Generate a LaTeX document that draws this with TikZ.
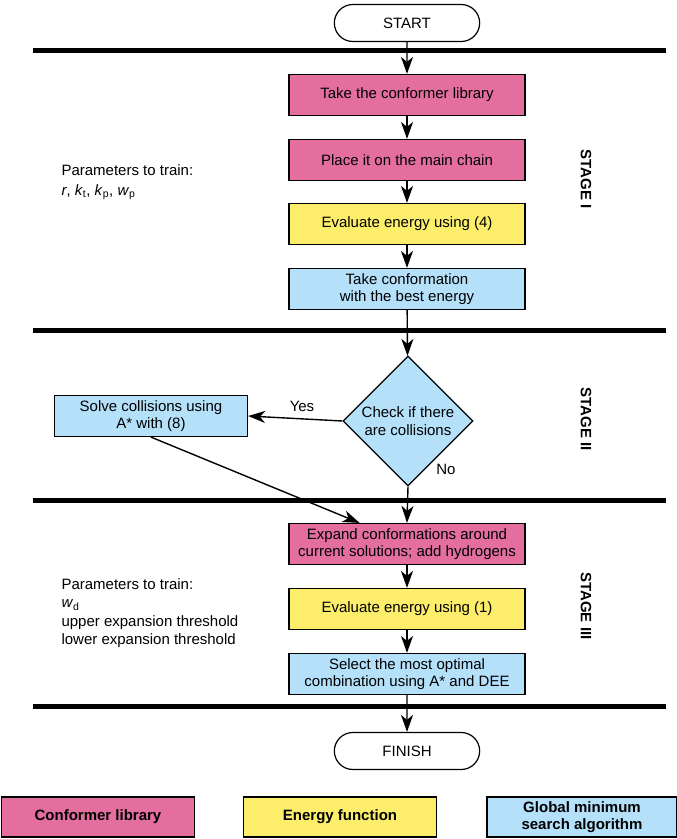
\documentclass[tikz,border=0pt]{standalone}
\usepackage{fontspec}
\setmainfont{Liberation Sans}
\usetikzlibrary{shapes,arrows.meta,positioning,calc}
\definecolor{libpink}{RGB}{228,110,158}
\definecolor{enyellow}{RGB}{252,238,106}
\definecolor{searchblue}{RGB}{180,224,250}

\begin{document}
\begin{tikzpicture}[x=1pt, y=-1pt, font=\fontsize{15}{17.5}\selectfont,
        box/.style={draw, line width=1.2pt, minimum width=236pt, minimum height=41pt, align=center, inner sep=2pt},
        term/.style={draw, line width=1.2pt, rounded rectangle, minimum width=152pt, minimum height=37pt},
        legend/.style={draw, line width=1.2pt, minimum width=193pt, minimum height=40pt, align=center, font=\fontsize{15}{17.5}\selectfont\bfseries},
        stage/.style={font=\fontsize{15}{17.5}\selectfont\bfseries, rotate=-90},
        sep/.style={line width=5pt},
        flow/.style={-{Stealth[length=17pt,width=12pt,inset=5pt]}, line width=1.4pt}]
        \useasboundingbox (0,0) rectangle (677,839);

        \node[term] (start) at (407,23) {START};
        \draw[sep] (33,50) -- (666,50);

        \node[box, fill=libpink] (lib) at (407,95) {Take the conformer library};
        \node[box, fill=libpink] (place) at (407,160) {Place it on the main chain};
        \node[box, fill=enyellow] (evalA) at (407,224) {Evaluate energy using (4)};
        \node[box, fill=searchblue] (best) at (407,289) {Take conformation\\with the best energy};
        \node[align=left, anchor=west, font=\fontsize{15}{20}\selectfont] (parA) at (58,182) {Parameters to train:\\\textit{r}, \textit{k}\textsubscript{t}, \textit{k}\textsubscript{p}, \textit{w}\textsubscript{p}};
        \node[stage] (stA) at (586,179) {STAGE I};

        \draw[sep] (33,330) -- (666,330);

        \node[draw, line width=1.2pt, diamond, aspect=1, fill=searchblue, minimum size=130pt, inner sep=0pt, align=center] (check) at (408,421) {Check if there\\are collisions};
        \node[box, fill=searchblue, minimum width=193pt] (solve) at (151,416) {Solve collisions using\\A* with (8)};
        \node (yes) at (302,406) {Yes};
        \node (no) at (446,469) {No};
        \node[stage] (stB) at (586,419) {STAGE II};

        \draw[sep] (33,500) -- (666,500);

        \node[box, fill=libpink] (expand) at (407,544) {Expand conformations around\\current solutions; add hydrogens};
        \node[box, fill=enyellow] (evalB) at (407,609) {Evaluate energy using (1)};
        \node[box, fill=searchblue] (select) at (407,674) {Select the most optimal\\combination using A* and DEE};
        \node[align=left, anchor=west, font=\fontsize{15}{18.5}\selectfont] (parB) at (58,613) {Parameters to train:\\\textit{w}\textsubscript{d}\\upper expansion threshold\\lower expansion threshold};
        \node[stage] (stC) at (586,606) {STAGE III};

        \draw[sep] (33,706) -- (666,706);

        \node[term] (finish) at (407,751) {FINISH};

        \draw[flow] (start) -- (lib);
        \draw[flow] (lib) -- (place);
        \draw[flow] (place) -- (evalA);
        \draw[flow] (evalA) -- (best);
        \draw[flow] (best) -- (check);
        \draw[flow] (check.west) -- (solve.east);
        \draw[flow] (check.south) -- (expand.north);
        \draw[flow] (solve.south) -- ($(expand.north west)!0.3!(expand.north east)$);
        \draw[flow] (expand) -- (evalB);
        \draw[flow] (evalB) -- (select);
        \draw[flow] (select) -- (finish);

        \node[legend, fill=libpink] (lgA) at (98,817) {Conformer library};
        \node[legend, fill=enyellow] (lgB) at (340,817) {Energy function};
        \node[legend, fill=searchblue, minimum width=190pt] (lgC) at (582,817) {Global minimum\\search algorithm};
    \end{tikzpicture}
\end{document}
